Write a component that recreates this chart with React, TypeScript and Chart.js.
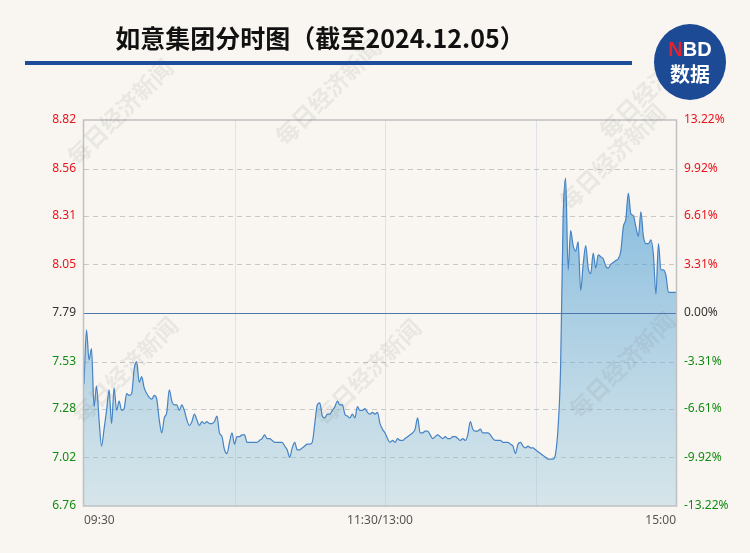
import React, { useEffect, useRef } from 'react';
import { Chart, registerables } from 'chart.js';

Chart.register(...registerables);

const TITLE = '如意集团分时图（截至2024.12.05）';
const WATERMARK = '每日经济新闻';
const PREV_CLOSE = 7.79;

// price axis ticks (left) and change-percent labels (right), ascending
const PRICE_TICKS = [6.76, 7.02, 7.28, 7.53, 7.79, 8.05, 8.31, 8.56, 8.82];
const PCT_LABELS = ['-13.22%', '-9.92%', '-6.61%', '-3.31%', '0.00%', '3.31%', '6.61%', '9.92%', '13.22%'];

// time axis
const TIME_LABELS = ['09:30', '11:30/13:00', '15:00'];
const TIME_LABEL_MINUTES = [0, 118, 236];
const GRID_MINUTES = [60, 120, 180];
const LAST_MINUTE = 236;

// minute prices, morning session
const morningPrices = [
  7.41, 7.70, 7.54, 7.60, 7.29, 7.40, 7.22, 7.08, 7.17, 7.27,
  7.38, 7.20, 7.39, 7.27, 7.32, 7.27, 7.28, 7.36, 7.35, 7.36,
  7.49, 7.53, 7.42, 7.45, 7.39, 7.36, 7.34, 7.33, 7.35, 7.33,
  7.22, 7.15, 7.23, 7.26, 7.38, 7.32, 7.30, 7.30, 7.27, 7.30,
  7.27, 7.22, 7.19, 7.21, 7.25, 7.22, 7.19, 7.21, 7.20, 7.21,
  7.20, 7.20, 7.21, 7.24, 7.15, 7.13, 7.06, 7.04, 7.10, 7.15,
  7.09, 7.13, 7.13, 7.14, 7.14, 7.10, 7.10, 7.10, 7.10, 7.10,
  7.11, 7.12, 7.14, 7.12, 7.12, 7.11, 7.10, 7.10, 7.10, 7.10,
  7.08, 7.06, 7.02, 7.07, 7.10, 7.06, 7.06, 7.07, 7.08, 7.09,
  7.09, 7.10, 7.20, 7.30, 7.31, 7.24, 7.23, 7.25, 7.25, 7.27,
  7.29, 7.32, 7.30, 7.30, 7.25, 7.24, 7.23, 7.25, 7.23, 7.29,
  7.27, 7.27, 7.28, 7.26, 7.25, 7.26, 7.25, 7.26, 7.20,
];

// minute prices, afternoon session
const afternoonPrices = [
  7.17, 7.15, 7.12, 7.10, 7.11, 7.10, 7.12, 7.11, 7.11, 7.12,
  7.13, 7.14, 7.15, 7.17, 7.23, 7.15, 7.15, 7.16, 7.16, 7.14,
  7.12, 7.13, 7.14, 7.13, 7.12, 7.13, 7.12, 7.12, 7.13, 7.13,
  7.12, 7.11, 7.12, 7.11, 7.14, 7.21, 7.17, 7.16, 7.16, 7.17,
  7.15, 7.15, 7.15, 7.14, 7.12, 7.11, 7.11, 7.11, 7.10, 7.10,
  7.10, 7.09, 7.08, 7.04, 7.09, 7.10, 7.08, 7.07, 7.08, 7.07,
  7.07, 7.06, 7.05, 7.04, 7.03, 7.02, 7.01, 7.01, 7.01, 7.04,
  7.18, 7.50, 8.30, 8.51, 8.02, 8.23, 8.15, 8.12, 8.17, 7.91,
  8.05, 8.15, 8.03, 8.00, 8.11, 8.03, 8.10, 8.09, 8.08, 8.04,
  8.03, 8.05, 8.06, 8.07, 8.08, 8.12, 8.25, 8.29, 8.43, 8.32,
  8.31, 8.25, 8.20, 8.33, 8.20, 8.16, 8.16, 8.18, 8.10, 7.89,
  8.16, 8.02, 8.02, 7.99, 7.90, 7.90, 7.90, 7.90,
];

const prices = [...morningPrices, ...afternoonPrices];

const BG = '#f9f6f1';
const RED = '#e8141c';
const GREEN = '#128c12';
const NEUTRAL = '#333333';

function tickColor(v: number) {
  if (Math.abs(v - PREV_CLOSE) < 0.001) return NEUTRAL;
  return v > PREV_CLOSE ? RED : GREEN;
}

const decorPlugin = {
  id: 'decor',
  beforeDraw(chart: any) {
    const c = chart.ctx;
    c.save();
    c.fillStyle = BG;
    c.fillRect(0, 0, chart.width, chart.height);
    c.restore();
  },
  beforeDatasetsDraw(chart: any) {
    const { ctx: c, chartArea: a, scales } = chart;
    const xs = scales.x;
    const ys = scales.y;
    c.save();
    c.strokeStyle = '#dfe3e8';
    c.lineWidth = 1;
    for (const m of GRID_MINUTES) {
      const px = Math.round(xs.getPixelForValue(m)) + 0.5;
      c.beginPath();
      c.moveTo(px, a.top);
      c.lineTo(px, a.bottom);
      c.stroke();
    }
    c.setLineDash([5, 4]);
    c.strokeStyle = '#c8c8c8';
    for (const v of PRICE_TICKS) {
      if (Math.abs(v - PREV_CLOSE) < 0.001) continue;
      if (v <= ys.min + 0.001 || v >= ys.max - 0.001) continue;
      const py = Math.round(ys.getPixelForValue(v)) + 0.5;
      c.beginPath();
      c.moveTo(a.left, py);
      c.lineTo(a.right, py);
      c.stroke();
    }
    c.restore();
  },
  afterDatasetsDraw(chart: any) {
    const { ctx: c, chartArea: a, scales } = chart;
    const ys = scales.y;
    c.save();
    // previous close line
    const py = Math.round(ys.getPixelForValue(PREV_CLOSE)) + 0.5;
    c.strokeStyle = '#4d79ad';
    c.lineWidth = 1;
    c.beginPath();
    c.moveTo(a.left, py);
    c.lineTo(a.right, py);
    c.stroke();
    // frame
    c.strokeStyle = '#bfc0c2';
    c.lineWidth = 1.5;
    c.strokeRect(a.left - 0.5, a.top, a.right - a.left + 1, a.bottom - a.top);
    // watermarks
    c.font = 'bold 23px "Noto Sans CJK SC", sans-serif';
    c.fillStyle = 'rgba(110,110,110,0.11)';
    c.textAlign = 'center';
    c.textBaseline = 'middle';
    const spots = [
      [120, 112], [328, 92], [612, 157], [652, 86],
      [125, 370], [368, 372], [622, 365],
    ];
    for (const [wx, wy] of spots) {
      c.save();
      c.translate(wx, wy);
      c.rotate(-Math.PI / 4);
      c.fillText(WATERMARK, 0, 0);
      c.restore();
    }
    c.restore();
  },
  afterDraw(chart: any) {
    const c = chart.ctx;
    c.save();
    // title
    c.fillStyle = '#111111';
    c.font = 'bold 25px "Noto Sans CJK SC", sans-serif';
    c.textAlign = 'center';
    c.textBaseline = 'middle';
    c.fillText(TITLE, 320, 38);
    // underline
    c.fillStyle = '#1d4c9b';
    c.fillRect(25, 61, 607, 4);
    // logo
    c.fillStyle = '#1c4a94';
    c.beginPath();
    c.ellipse(690, 62, 36, 38, 0, 0, Math.PI * 2);
    c.fill();
    c.font = 'bold 20px "Liberation Sans", Arial, sans-serif';
    c.textAlign = 'left';
    const wN = c.measureText('N').width;
    const wBD = c.measureText('BD').width;
    const sx = 690 - (wN + wBD) / 2;
    c.fillStyle = '#e8202a';
    c.fillText('N', sx, 50);
    c.fillStyle = '#ffffff';
    c.fillText('BD', sx + wN, 50);
    c.font = 'bold 20px "Noto Sans CJK SC", sans-serif';
    c.textAlign = 'center';
    c.fillText('数据', 690, 74);
    c.restore();
  },
};

export default function App() {
  const ref = useRef<HTMLCanvasElement | null>(null);

  useEffect(() => {
    const canvas = ref.current;
    if (!canvas) return;
    Chart.defaults.font.family = '"Noto Sans", "DejaVu Sans", sans-serif';

    const chart = new Chart(canvas, {
      type: 'line',
      data: {
        datasets: [
          {
            data: prices.map((p, i) => ({ x: i, y: p })),
            yAxisID: 'y',
            borderColor: '#4683c4',
            borderWidth: 1.2,
            pointRadius: 0,
            cubicInterpolationMode: 'monotone',
            fill: 'start',
            backgroundColor: (ctx: any) => {
              const { chart: ch } = ctx;
              const area = ch.chartArea;
              if (!area) return 'rgba(120,180,220,0.4)';
              const g = ch.ctx.createLinearGradient(0, area.top, 0, area.bottom);
              g.addColorStop(0, 'rgba(45,145,210,0.68)');
              g.addColorStop(0.45, 'rgba(80,160,212,0.5)');
              g.addColorStop(1, 'rgba(150,198,220,0.36)');
              return g;
            },
          },
        ],
      },
      options: {
        responsive: false,
        animation: false,
        devicePixelRatio: 1,
        layout: { padding: { top: 120, left: 0, right: 0, bottom: 0 } },
        plugins: {
          legend: { display: false },
          tooltip: { enabled: false },
        },
        scales: {
          x: {
            type: 'linear',
            min: 0,
            max: LAST_MINUTE,
            grid: { display: false, drawTicks: false },
            border: { display: false },
            afterBuildTicks: (s: any) => {
              s.ticks = TIME_LABEL_MINUTES.map((v) => ({ value: v }));
            },
            afterFit: (s: any) => {
              s.height = 47;
            },
            ticks: {
              autoSkip: false,
              maxRotation: 0,
              align: 'inner',
              padding: 7,
              color: '#555555',
              font: { size: 12 },
              callback: (v: any) => {
                const i = TIME_LABEL_MINUTES.indexOf(Number(v));
                return i >= 0 ? TIME_LABELS[i] : '';
              },
            },
          },
          y: {
            type: 'linear',
            position: 'left',
            min: PRICE_TICKS[0],
            max: PRICE_TICKS[PRICE_TICKS.length - 1],
            grid: { display: false, drawTicks: false },
            border: { display: false },
            afterBuildTicks: (s: any) => {
              s.ticks = PRICE_TICKS.map((v) => ({ value: v }));
            },
            afterFit: (s: any) => {
              s.width = 84;
            },
            ticks: {
              padding: 8,
              font: { size: 12 },
              color: (ctx: any) => tickColor(ctx.tick.value),
              callback: (v: any) => Number(v).toFixed(2),
            },
          },
          y2: {
            type: 'linear',
            position: 'right',
            min: PRICE_TICKS[0],
            max: PRICE_TICKS[PRICE_TICKS.length - 1],
            grid: { display: false, drawTicks: false },
            border: { display: false },
            afterBuildTicks: (s: any) => {
              s.ticks = PRICE_TICKS.map((v) => ({ value: v }));
            },
            afterFit: (s: any) => {
              s.width = 74;
            },
            ticks: {
              padding: 8,
              font: { size: 12 },
              color: (ctx: any) => tickColor(ctx.tick.value),
              callback: (_v: any, i: number) => PCT_LABELS[i],
            },
          },
        },
      },
      plugins: [decorPlugin],
    } as any);

    return () => chart.destroy();
  }, []);

  return (
    <div style={{ position: 'fixed', left: 0, top: 0, width: 750, height: 553, background: BG }}>
      <canvas ref={ref} width={750} height={553} style={{ display: 'block', width: 750, height: 553 }} />
    </div>
  );
}
